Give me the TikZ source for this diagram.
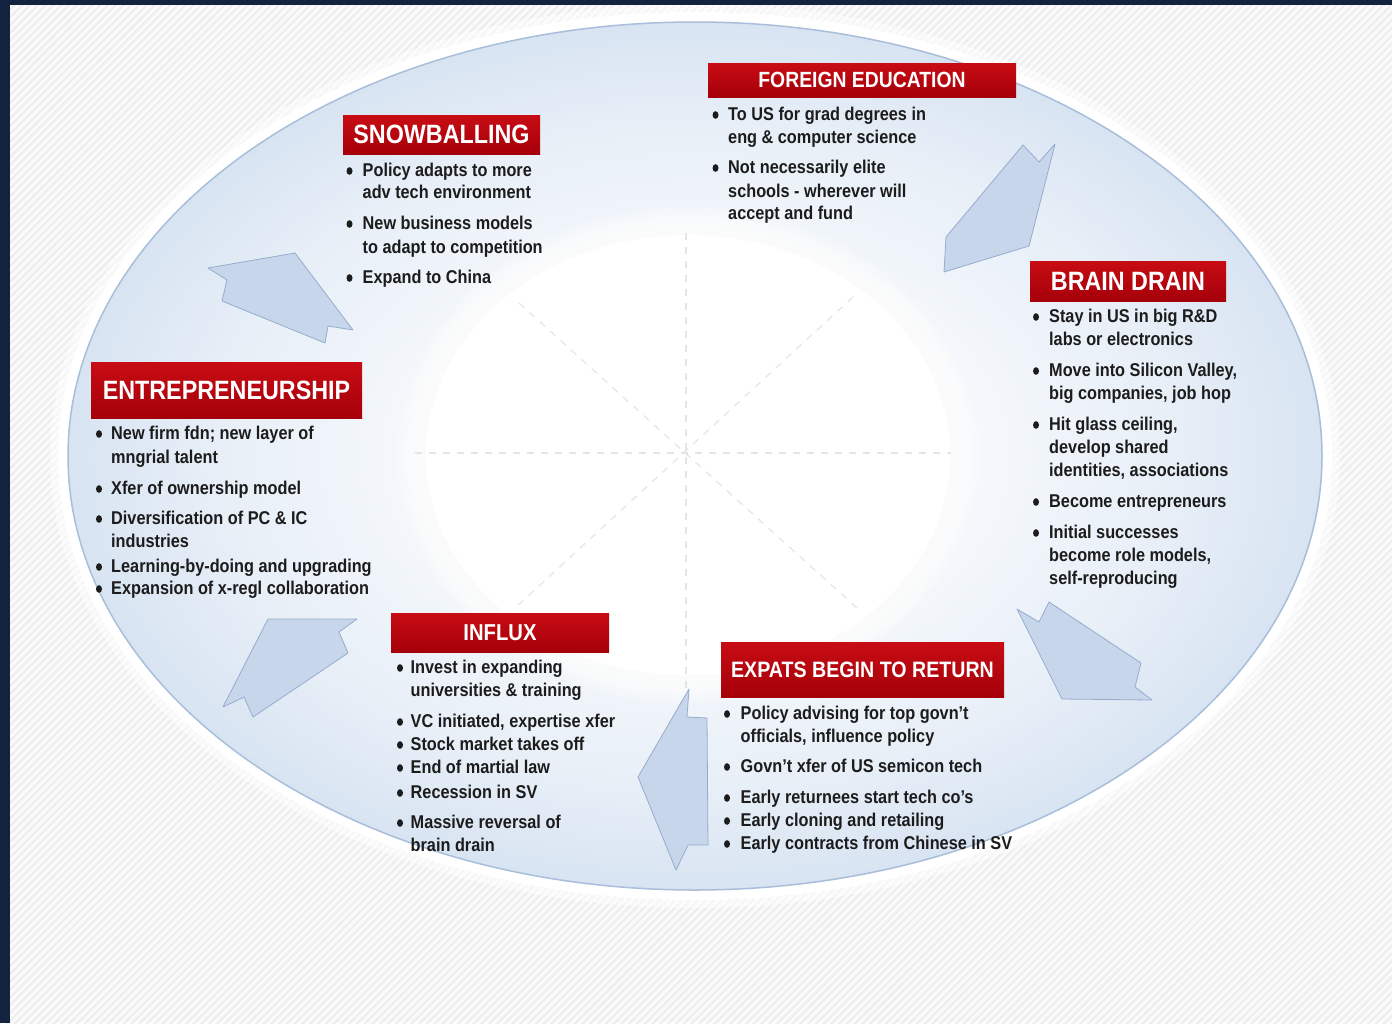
\documentclass[tikz,border=0pt]{standalone}
\usepackage{fontspec}
\setmainfont{Liberation Sans}[FakeStretch=0.88]
\usetikzlibrary{patterns.meta}

\definecolor{navy}{RGB}{19,35,63}
\definecolor{titlered}{RGB}{200,12,20}
\definecolor{titledark}{RGB}{165,0,10}
\definecolor{rimblue}{RGB}{168,190,218}
\definecolor{bowlblue}{RGB}{216,228,242}
\definecolor{arrowfill}{RGB}{200,214,235}
\definecolor{arrowedge}{RGB}{150,172,205}
\definecolor{inktext}{RGB}{28,28,28}

\pgfdeclareradialshading{bowl}{\pgfpoint{0bp}{0bp}}{%
  color(0bp)=(bowlblue!10); color(11bp)=(bowlblue!25);
  color(19bp)=(bowlblue!60); color(25bp)=(bowlblue); color(50bp)=(bowlblue)}

\begin{document}
\begin{tikzpicture}[x=1pt,y=-1pt,
    title/.style={top color=titlered, middle color=titlered, bottom color=titledark,
      text=white, inner sep=0pt},
    item/.style={anchor=base west, inner sep=0pt, text=inktext,
      font=\bfseries\fontsize{18.5}{20}\selectfont},
    dot/.style={fill=inktext},
    blockarrow/.style={fill=arrowfill, draw=arrowedge, line width=0.8pt, line join=round},
    spoke/.style={draw=gray!20, line width=1.2pt, dash pattern=on 7pt off 7pt}]
  \useasboundingbox (0,0) rectangle (1392,1023);
  % backdrop
  \fill[gray!4] (0,0) rectangle (1392,1023);
  \fill[pattern={Lines[angle=45,distance=5.5pt,line width=2pt]}, pattern color=gray!14]
    (0,0) rectangle (1392,1023);
  % bowl
  \fill[white,opacity=0.5] (695,456) ellipse [x radius=645, y radius=452];
  \fill[white] (695,456) ellipse [x radius=637, y radius=444];
  \shade[shading=bowl, draw=rimblue, line width=1.5pt]
    (695,456) ellipse [x radius=627, y radius=434];
  \foreach \g in {28,24,...,4}
    \fill[white,opacity=0.2] (688,455) ellipse [x radius=262+\g, y radius=220+\g];
  \fill[white] (688,455) ellipse [x radius=262, y radius=220];
  % spokes
  \draw[spoke] (415,453) -- (951,453);
  \draw[spoke] (686,233) -- (686,700);
  \draw[spoke] (519,303) -- (857,608);
  \draw[spoke] (853,297) -- (515,608);
  % arrows
  \filldraw[blockarrow] (1023,145) -- (1039,162) -- (1055,144) -- (1029,246)
    -- (944,272) -- (946,237) -- cycle;
  \filldraw[blockarrow] (1017,609) -- (1039,622) -- (1049,602) -- (1141,663)
    -- (1135,687) -- (1152,700) -- (1062,699) -- cycle;
  \filldraw[blockarrow] (689,689) -- (687,717) -- (707,718) -- (708,845)
    -- (688,845) -- (676,870) -- (638,777) -- cycle;
  \filldraw[blockarrow] (268,619) -- (357,619) -- (339,632) -- (348,653)
    -- (253,717) -- (244,697) -- (223,707) -- cycle;
  \filldraw[blockarrow] (208,268) -- (295,253) -- (353,330) -- (328,326)
    -- (325,343) -- (222,301) -- (227,280) -- cycle;
  % titles
  \node[title, minimum width=308, minimum height=34,
    font=\bfseries\fontsize{22}{22}\selectfont] (foreign) at (862,80) {FOREIGN EDUCATION};
  \node[title, minimum width=197, minimum height=39,
    font=\bfseries\fontsize{26.5}{26.5}\selectfont] (snowball) at (441.5,134.5) {SNOWBALLING};
  \node[title, minimum width=196, minimum height=40,
    font=\bfseries\fontsize{26.5}{26.5}\selectfont] (drain) at (1128,281) {BRAIN DRAIN};
  \node[title, minimum width=271, minimum height=56,
    font=\bfseries\fontsize{26.5}{26.5}\selectfont] (entre) at (226.5,390) {ENTREPRENEURSHIP};
  \node[title, minimum width=218, minimum height=39,
    font=\bfseries\fontsize{23}{23}\selectfont] (influx) at (500,632.5) {INFLUX};
  \node[title, minimum width=283, minimum height=55,
    font=\bfseries\fontsize{22.3}{22.3}\selectfont] (expats) at (862.5,669.5) {EXPATS BEGIN TO RETURN};
  % lists
  \foreach \yy/\txt [count=\k] in {114/{To US for grad degrees in},
      137/{eng \& computer science}, 167/{Not necessarily elite},
      191/{schools - wherever will}, 213/{accept and fund}}
    \node[item] (foreign\k) at (728,\yy+6) {\txt};
  \foreach \yy in {114,167}
    \fill[dot] (715.5,\yy+1) ellipse [x radius=3, y radius=3.8];

  \foreach \yy/\txt [count=\k] in {170/{Policy adapts to more},
      192/{adv tech environment}, 223/{New business models},
      247/{to adapt to competition}, 277/{Expand to China}}
    \node[item] (snowball\k) at (362.5,\yy+6) {\txt};
  \foreach \yy in {170,223,277}
    \fill[dot] (349.5,\yy+1) ellipse [x radius=3, y radius=3.8];

  \foreach \yy/\txt [count=\k] in {316/{Stay in US in big R\&D},
      339/{labs or electronics}, 370/{Move into Silicon Valley,},
      393/{big companies, job hop}, 424/{Hit glass ceiling,},
      447/{develop shared}, 470/{identities, associations},
      501/{Become entrepreneurs}, 532/{Initial successes},
      555/{become role models,}, 578/{self-reproducing}}
    \node[item] (drain\k) at (1049,\yy+6) {\txt};
  \foreach \yy in {316,370,424,501,532}
    \fill[dot] (1036,\yy+1) ellipse [x radius=3, y radius=3.8];

  \foreach \yy/\txt [count=\k] in {433/{New firm fdn; new layer of},
      457/{mngrial talent}, 488/{Xfer of ownership model},
      518/{Diversification of PC \& IC}, 541/{industries},
      566/{Learning-by-doing and upgrading},
      588/{Expansion of x-regl collaboration}}
    \node[item] (entre\k) at (111,\yy+6) {\txt};
  \foreach \yy in {433,488,518,566,588}
    \fill[dot] (99,\yy+1) ellipse [x radius=3, y radius=3.8];

  \foreach \yy/\txt [count=\k] in {667/{Invest in expanding},
      690/{universities \& training}, 721/{VC initiated, expertise xfer},
      744/{Stock market takes off}, 767/{End of martial law},
      792/{Recession in SV}, 822/{Massive reversal of}, 845/{brain drain}}
    \node[item] (influx\k) at (410.5,\yy+6) {\txt};
  \foreach \yy in {667,721,744,767,792,822}
    \fill[dot] (400,\yy+1) ellipse [x radius=3, y radius=3.8];

  \foreach \yy/\txt [count=\k] in {713/{Policy advising for top govn't},
      736/{officials, influence policy}, 766/{Govn't xfer of US semicon tech},
      797/{Early returnees start tech co's}, 820/{Early cloning and retailing},
      843/{Early contracts from Chinese in SV}}
    \node[item] (expats\k) at (740.5,\yy+6) {\txt};
  \foreach \yy in {713,766,797,820,843}
    \fill[dot] (727,\yy+1) ellipse [x radius=3, y radius=3.8];
  % frame strips
  \fill[navy] (0,0) rectangle (1392,5);
  \fill[navy] (0,0) rectangle (10,1023);
\end{tikzpicture}
\end{document}
